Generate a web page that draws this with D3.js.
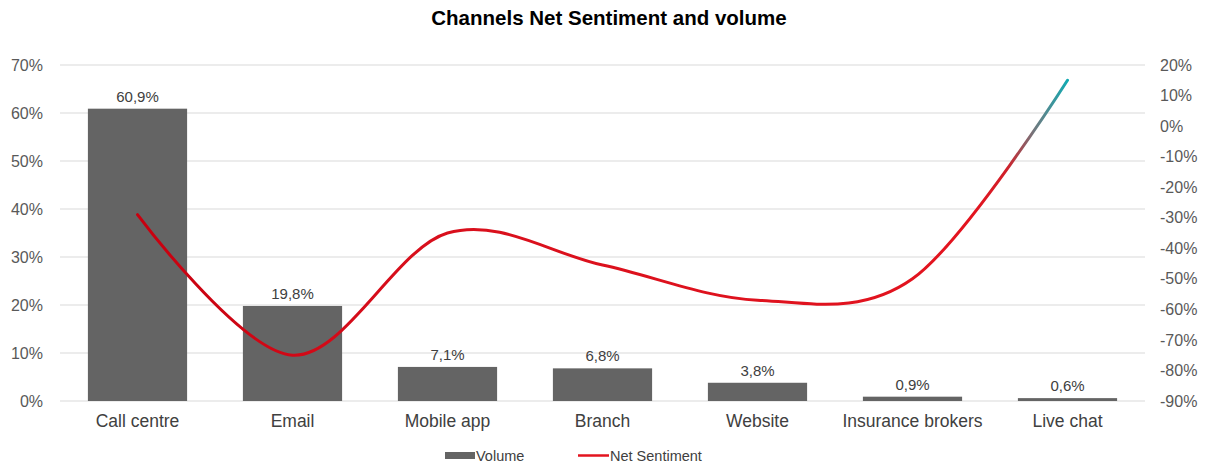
<!DOCTYPE html>
<html>
<head>
<meta charset="utf-8">
<script src="https://cdn.jsdelivr.net/npm/d3@7"></script>
<style>
  html, body { margin: 0; padding: 0; background: #fff; }
  svg { display: block; font-family: "Liberation Sans", Arial, sans-serif; }
</style>
</head>
<body>
<svg id="chart" width="1213" height="467"></svg>
<script>
// Channel data
const channels = ["Call centre", "Email", "Mobile app", "Branch", "Website", "Insurance brokers", "Live chat"];
const volume = [60.9, 19.8, 7.1, 6.8, 3.8, 0.9, 0.6];          // % of volume (left axis)
const netSentiment = [-29, -75, -35, -45.5, -57, -50, 15];      // % net sentiment (right axis)
const leftTicks = [0, 10, 20, 30, 40, 50, 60, 70];
const rightTicks = [20, 10, 0, -10, -20, -30, -40, -50, -60, -70, -80, -90];

const svg = d3.select("#chart");
const plot = { left: 60, right: 1145, top: 65, bottom: 401 };

const x = d3.scaleBand().domain(channels).range([plot.left, plot.right]).paddingInner(0.36).paddingOuter(0.18);
const xc = d => x(d) + x.bandwidth() / 2;
const yL = d3.scaleLinear().domain([0, 70]).range([plot.bottom, plot.top]);
const yR = d3.scaleLinear().domain([-90, 20]).range([plot.bottom, plot.top]);

// Title
svg.append("text")
  .attr("x", 609).attr("y", 25)
  .attr("text-anchor", "middle")
  .style("font-size", "20.5px").style("font-weight", "bold").style("fill", "#000")
  .text("Channels Net Sentiment and volume");

// Gridlines
svg.append("g").selectAll("line").data(leftTicks).join("line")
  .attr("x1", plot.left).attr("x2", plot.right)
  .attr("y1", d => yL(d)).attr("y2", d => yL(d))
  .attr("stroke", "#d9d9d9").attr("stroke-width", 1);

// Left axis
const axL = svg.append("g").attr("transform", `translate(${plot.left - 14},0)`)
  .call(d3.axisLeft(yL).tickValues(leftTicks).tickSize(0).tickFormat(d => d + "%"));
axL.select(".domain").remove();
axL.selectAll("text").style("font-size", "16px").style("fill", "#595959")
  .style("font-family", "'Liberation Sans', Arial, sans-serif");

// Right axis
const axR = svg.append("g").attr("transform", `translate(${plot.right + 12},0)`)
  .call(d3.axisRight(yR).tickValues(rightTicks).tickSize(0).tickFormat(d => d + "%"));
axR.select(".domain").remove();
axR.selectAll("text").style("font-size", "16px").style("fill", "#595959")
  .style("font-family", "'Liberation Sans', Arial, sans-serif");

// Bars
svg.append("g").selectAll("rect").data(channels).join("rect")
  .attr("x", d => x(d)).attr("width", x.bandwidth())
  .attr("y", (d, i) => yL(volume[i]))
  .attr("height", (d, i) => yL(0) - yL(volume[i]))
  .attr("fill", "#646464");

// Bar value labels
svg.append("g").selectAll("text").data(channels).join("text")
  .attr("x", d => xc(d))
  .attr("y", (d, i) => yL(volume[i]) - 7)
  .attr("text-anchor", "middle")
  .style("font-size", "15px").style("fill", "#404040")
  .text((d, i) => volume[i].toFixed(1).replace(".", ",") + "%");

// Category labels
const axX = svg.append("g").attr("transform", `translate(0,${plot.bottom + 11})`)
  .call(d3.axisBottom(x).tickSize(0));
axX.select(".domain").remove();
axX.selectAll("text").style("font-size", "17.5px").style("fill", "#404040")
  .style("font-family", "'Liberation Sans', Arial, sans-serif");

// Sentiment line gradient (red fading to teal at the last point)
const x0 = xc(channels[0]), x1 = xc(channels[channels.length - 1]);
const defs = svg.append("defs");
const grad = defs.append("linearGradient").attr("id", "sentGrad")
  .attr("gradientUnits", "userSpaceOnUse")
  .attr("x1", x0).attr("x2", x1).attr("y1", 0).attr("y2", 0);
[[0, "#c8000f"], [0.3, "#d80f1c"], [0.9, "#e3141f"], [0.935, "#d0202a"], [0.965, "#6f7a80"], [1, "#12aab2"]]
  .forEach(([o, c]) => grad.append("stop").attr("offset", o).attr("stop-color", c));

const line = d3.line()
  .x((d, i) => xc(channels[i]))
  .y(d => yR(d))
  .curve(d3.curveCatmullRom.alpha(0));

svg.append("path").datum(netSentiment)
  .attr("d", line)
  .attr("fill", "none")
  .attr("stroke", "url(#sentGrad)")
  .attr("stroke-width", 3)
  .attr("stroke-linecap", "round");

// Legend
const lg = svg.append("g");
lg.append("rect").attr("x", 445).attr("y", 452).attr("width", 30).attr("height", 7).attr("fill", "#646464");
lg.append("text").attr("x", 476).attr("y", 460.5).style("font-size", "14.5px").style("fill", "#404040").text("Volume");
lg.append("line").attr("x1", 578).attr("x2", 609).attr("y1", 455.5).attr("y2", 455.5)
  .attr("stroke", "#e3141f").attr("stroke-width", 2.5);
lg.append("text").attr("x", 610).attr("y", 460.5).style("font-size", "14.5px").style("fill", "#404040").text("Net Sentiment");
</script>
</body>
</html>
